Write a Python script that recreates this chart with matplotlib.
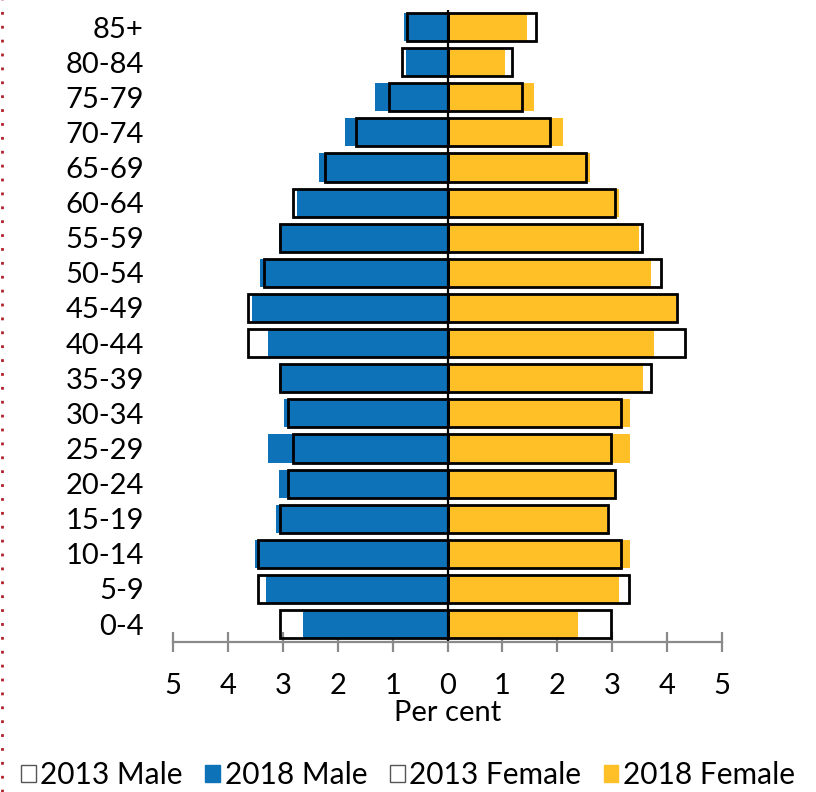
import matplotlib
matplotlib.use("Agg")
import matplotlib.pyplot as plt
from matplotlib.patches import Patch
from matplotlib.lines import Line2D
import numpy as np

plt.rcParams['font.family'] = ['Lato', 'DejaVu Sans']

# Age groups from bottom to top
ages = ['0-4', '5-9', '10-14', '15-19', '20-24', '25-29', '30-34', '35-39',
        '40-44', '45-49', '50-54', '55-59', '60-64', '65-69', '70-74',
        '75-79', '80-84', '85+']

# Values listed top (85+) to bottom (0-4), reversed below
male_2013_td = [0.73, 0.82, 1.07, 1.66, 2.23, 2.81, 3.05, 3.35, 3.64, 3.64,
                3.05, 2.91, 2.82, 2.91, 3.06, 3.45, 3.45, 3.05]
male_2018_td = [0.79, 0.75, 1.32, 1.86, 2.34, 2.74, 3.07, 3.41, 3.56, 3.27,
                3.07, 2.97, 3.27, 3.07, 3.12, 3.51, 3.31, 2.63]
female_2013_td = [1.62, 1.17, 1.36, 1.86, 2.53, 3.06, 3.55, 3.89, 4.18, 4.33,
                  3.70, 3.16, 2.97, 3.06, 2.92, 3.16, 3.31, 2.98]
female_2018_td = [1.45, 1.05, 1.58, 2.11, 2.60, 3.13, 3.49, 3.71, 4.16, 3.77,
                  3.57, 3.32, 3.32, 3.05, 2.90, 3.32, 3.13, 2.37]

male_2013 = np.array(male_2013_td[::-1])
male_2018 = np.array(male_2018_td[::-1])
female_2013 = np.array(female_2013_td[::-1])
female_2018 = np.array(female_2018_td[::-1])

xticks = [-5, -4, -3, -2, -1, 0, 1, 2, 3, 4, 5]
xticklabels = ['5', '4', '3', '2', '1', '0', '1', '2', '3', '4', '5']

BLUE = '#0E72B9'
YELLOW = '#FFBF27'
GREY = '#8A8A8A'

fig = plt.figure(figsize=(8.16, 7.92), dpi=100)
ax = fig.add_axes([173/816, 1 - 641.6/792, (722-173)/816, (641.6-9.5)/792])

y = np.arange(len(ages))
h = 0.8

ax.barh(y, -male_2018, height=h, color=BLUE, zorder=2)
ax.barh(y, female_2018, height=h, color=YELLOW, zorder=2)
ax.barh(y, -male_2013, height=h, facecolor='none', edgecolor='black',
        linewidth=2.0, zorder=3)
ax.barh(y, female_2013, height=h, facecolor='none', edgecolor='black',
        linewidth=2.0, zorder=3)

ax.axvline(0, color='black', linewidth=1.6, zorder=4)

ax.set_xlim(-5, 5)
ax.set_ylim(-0.5, len(ages) - 0.5)

for s in ['top', 'left', 'right']:
    ax.spines[s].set_visible(False)
ax.spines['bottom'].set_color(GREY)
ax.spines['bottom'].set_linewidth(1.6)
ax.spines['bottom'].set_zorder(5)

ax.set_xticks(xticks)
ax.set_xticklabels(xticklabels)
ax.tick_params(axis='x', direction='inout', length=15, width=1.6, color=GREY,
               labelsize=21, pad=15, labelcolor='black')
ax.set_yticks(y)
ax.set_yticklabels(ages)
ax.tick_params(axis='y', length=0, labelsize=21, pad=21)

ax.set_xlabel('Per cent', fontsize=21, labelpad=1)

handles = [
    Patch(facecolor='white', edgecolor='#555555', linewidth=1.0),
    Patch(facecolor=BLUE, edgecolor=BLUE),
    Patch(facecolor='white', edgecolor='#555555', linewidth=1.0),
    Patch(facecolor=YELLOW, edgecolor=YELLOW),
]
labels = ['2013 Male', '2018 Male', '2013 Female', '2018 Female']
fig.legend(handles, labels, loc='center', bbox_to_anchor=(0.5, 1 - 775/792),
           ncol=4, frameon=False, fontsize=21.5, handlelength=0.5,
           handleheight=0.5, handletextpad=0.15, columnspacing=0.75,
           borderaxespad=0)

# dotted border at left edge
fig.add_artist(Line2D([0.003, 0.003], [0, 1], transform=fig.transFigure,
                      color='#B0202E', linestyle=(0, (1, 4)), linewidth=2))

fig.savefig('out.png', dpi=100)
